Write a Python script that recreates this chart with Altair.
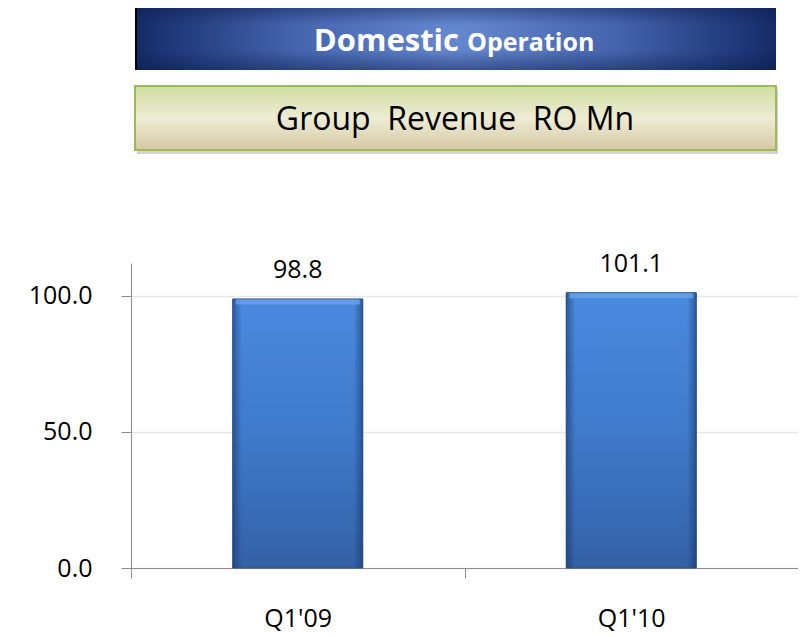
import altair as alt
import pandas as pd

# ---- data ----
quarters = ["Q1'09", "Q1'10"]
revenue = [98.8, 101.1]
value_labels = ["98.8", "101.1"]
y_ticks = [0, 50, 100]
banner_title = "Domestic"
banner_sub = "Operation"
box_title = "Group\u00a0\u00a0Revenue\u00a0\u00a0RO Mn"

FONT = "Open Sans"

df = pd.DataFrame({"quarter": quarters, "revenue": revenue, "label": value_labels})
one = pd.DataFrame({"k": [0]})

x_enc = alt.X(
    "quarter:N",
    sort=quarters,
    title=None,
    scale=alt.Scale(paddingInner=0, paddingOuter=0),
    axis=alt.Axis(
        labelAngle=0,
        tickBand="extent",
        tickSize=10,
        tickColor="#8c8c8c",
        domainColor="#8c8c8c",
        labelFont=FONT,
        labelFontSize=25,
        labelColor="#000000",
        labelPadding=28,
        grid=False,
    ),
)
y_enc = alt.Y(
    "revenue:Q",
    title=None,
    scale=alt.Scale(domain=[0, 112], nice=False),
    axis=alt.Axis(
        values=y_ticks,
        format=".1f",
        tickSize=10,
        tickColor="#8c8c8c",
        domainColor="#8c8c8c",
        labelFont=FONT,
        labelFontSize=25,
        labelColor="#000000",
        labelPadding=29,
        grid=True,
        gridColor="#e8e8e8",
        gridWidth=1.5,
    ),
)

bar_fill = alt.LinearGradient(
    gradient="linear",
    stops=[
        alt.GradientStop(color="#4a8ade", offset=0),
        alt.GradientStop(color="#3f7acb", offset=0.5),
        alt.GradientStop(color="#3461a6", offset=1),
    ],
    x1=0, x2=0, y1=0, y2=1,
)
edge_fill = alt.LinearGradient(
    gradient="linear",
    stops=[
        alt.GradientStop(color="rgba(20,50,100,0.55)", offset=0),
        alt.GradientStop(color="rgba(20,50,100,0.0)", offset=0.07),
        alt.GradientStop(color="rgba(20,50,100,0.0)", offset=0.93),
        alt.GradientStop(color="rgba(20,50,100,0.55)", offset=1),
    ],
    x1=0, x2=1, y1=0, y2=0,
)

BAR_W = alt.RelativeBandSize(0.39)

bars = alt.Chart(df).mark_bar(
    fill=bar_fill, stroke="#2c568f", strokeWidth=1, width=BAR_W
).encode(x=x_enc, y=y_enc)
bars_edge = alt.Chart(df).mark_bar(fill=edge_fill, width=BAR_W).encode(x=x_enc, y=y_enc)
bar_top = alt.Chart(df).mark_tick(
    color="#6fa8ec", thickness=5, size=124, yOffset=3
).encode(x=x_enc, y=y_enc)

labels = alt.Chart(df).mark_text(
    font=FONT, fontSize=25, color="#000000", baseline="alphabetic", dy=-21
).encode(x=x_enc, y=y_enc, text="label:N")

# ---- header banners (decoration) ----
blue_fill = alt.RadialGradient(
    gradient="radial",
    stops=[
        alt.GradientStop(color="#6688d0", offset=0),
        alt.GradientStop(color="#4565ae", offset=0.45),
        alt.GradientStop(color="#1a3372", offset=0.85),
        alt.GradientStop(color="#0d1f52", offset=1),
    ],
    x1=0.5, y1=0.5, r1=0, x2=0.5, y2=0.5, r2=0.55,
)
blue_box = alt.Chart(one).mark_rect(fill=blue_fill).encode(
    x=alt.value(4), x2=alt.value(645), y=alt.value(-258), y2=alt.value(-193)
)
blue_shade = alt.Chart(one).mark_rect(
    fill=alt.LinearGradient(
        gradient="linear",
        stops=[
            alt.GradientStop(color="rgba(10,25,70,0.45)", offset=0),
            alt.GradientStop(color="rgba(10,25,70,0.0)", offset=0.3),
            alt.GradientStop(color="rgba(10,25,70,0.0)", offset=0.7),
            alt.GradientStop(color="rgba(10,25,70,0.45)", offset=1),
        ],
        x1=0, x2=0, y1=0, y2=1,
    )
).encode(x=alt.value(4), x2=alt.value(645), y=alt.value(-258), y2=alt.value(-193))
blue_edge = alt.Chart(one).mark_rule(color="#000000", strokeWidth=2).encode(
    x=alt.value(5), y=alt.value(-258), y2=alt.value(-193)
)
title1 = alt.Chart(one).mark_text(
    text=banner_title, font=FONT, fontSize=31, fontWeight="bold", color="#ffffff",
    align="right", baseline="alphabetic",
).encode(x=alt.value(328), y=alt.value(-212))
title2 = alt.Chart(one).mark_text(
    text=banner_sub, font=FONT, fontSize=25, fontWeight="bold", color="#ffffff",
    align="left", baseline="alphabetic",
).encode(x=alt.value(336), y=alt.value(-212))

green_fill = alt.LinearGradient(
    gradient="linear",
    stops=[
        alt.GradientStop(color="#cfdc9f", offset=0),
        alt.GradientStop(color="#eeecd4", offset=0.5),
        alt.GradientStop(color="#d6c8a5", offset=1),
    ],
    x1=0, x2=0, y1=0, y2=1,
)
green_shadow = alt.Chart(one).mark_rect(color="#b5b5b5", opacity=0.6).encode(
    x=alt.value(6), x2=alt.value(647), y=alt.value(-174), y2=alt.value(-109)
)
green_box = alt.Chart(one).mark_rect(
    fill=green_fill, stroke="#9bbb59", strokeWidth=2
).encode(x=alt.value(4), x2=alt.value(645), y=alt.value(-177), y2=alt.value(-113))
title3 = alt.Chart(one).mark_text(
    text=box_title, font=FONT, fontSize=32, color="#000000",
    align="center", baseline="alphabetic",
).encode(x=alt.value(324), y=alt.value(-133))

chart = alt.layer(
    bars, bars_edge, bar_top, labels,
    blue_box, blue_shade, blue_edge, title1, title2,
    green_shadow, green_box, title3,
).properties(
    width=667,
    height=305,
    padding={"left": 123, "top": 255, "right": 0, "bottom": 70},
    autosize=alt.AutoSizeParams(type="none"),
).configure(background="#ffffff").configure_view(stroke=None)

chart.save("out.html", embed_options={"renderer": "svg", "actions": False})
